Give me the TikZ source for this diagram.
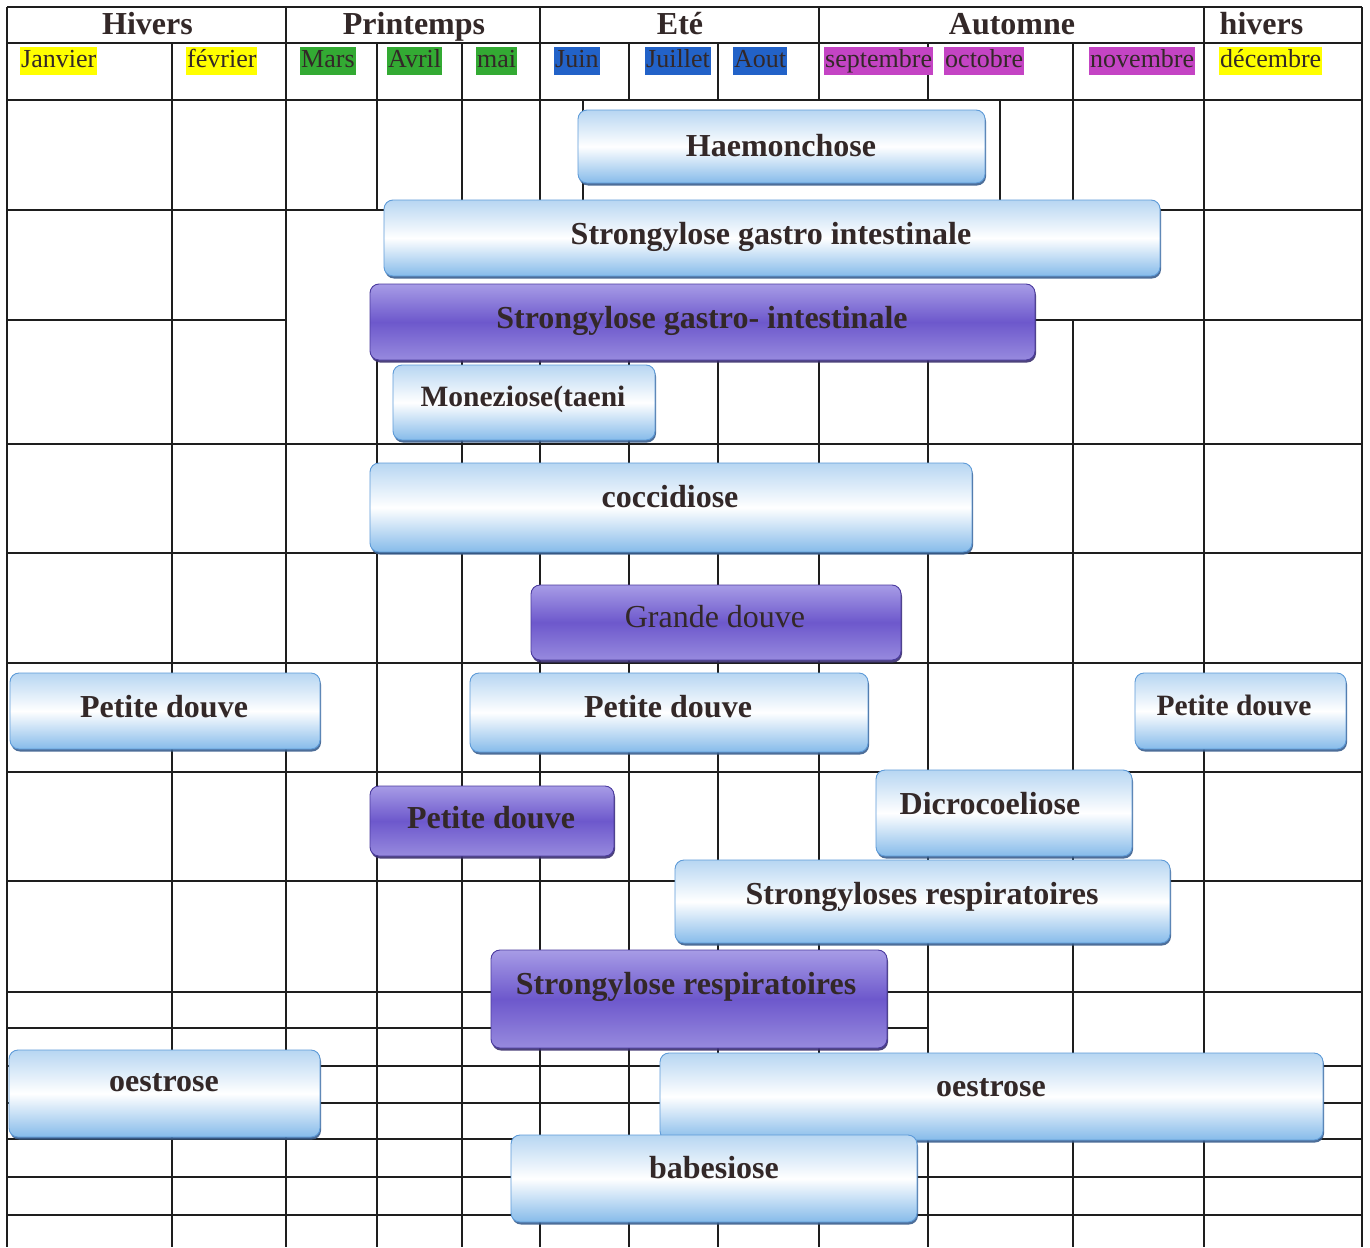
\documentclass[tikz,border=0pt]{standalone}
\usepackage{fontspec}
\setmainfont{Liberation Serif}
\usetikzlibrary{shadows}
\definecolor{txt}{HTML}{332828}
\definecolor{gridc}{HTML}{1E1E1E}
\definecolor{ltop}{HTML}{B7D6F2}
\definecolor{lbot}{HTML}{86BBEA}
\definecolor{ledge}{HTML}{5E9BD8}
\definecolor{lshadow}{HTML}{3A5F8E}
\definecolor{ptop}{HTML}{A79CE6}
\definecolor{pmid}{HTML}{6D58CC}
\definecolor{pbot}{HTML}{978ADE}
\definecolor{pedge}{HTML}{4A3A9E}
\definecolor{pshadow}{HTML}{3A2F6E}
\definecolor{hyel}{HTML}{FFFF00}
\definecolor{hgrn}{HTML}{33AA33}
\definecolor{hblu}{HTML}{2262C8}
\definecolor{hmag}{HTML}{C444C4}
\tikzset{
  gridline/.style={draw=gridc, line width=1.1pt},
  lbox/.style={rounded corners=9pt, draw=ledge, line width=0.9pt,
    top color=ltop, bottom color=lbot, middle color=white,
    drop shadow={shadow xshift=1pt, shadow yshift=-2.5pt, opacity=0.9, fill=lshadow}},
  pbox/.style={rounded corners=9pt, draw=pedge, line width=0.9pt,
    top color=ptop, bottom color=pbot, middle color=pmid,
    drop shadow={shadow xshift=1pt, shadow yshift=-2.5pt, opacity=0.9, fill=pshadow}},
  lbl/.style={font=\fontsize{32}{36}\selectfont\bfseries, text=txt, inner sep=0pt, text height=22pt, text depth=0pt},
  lblsmall/.style={lbl, font=\fontsize{29.5}{34}\selectfont\bfseries},
  lblreg/.style={lbl, font=\fontsize{32}{36}\selectfont},
  season/.style={lbl},
  month/.style={font=\fontsize{26}{30}\selectfont, text=txt, inner xsep=1pt, inner ysep=0pt, text height=20pt, text depth=7pt, anchor=west},
}
\begin{document}
\begin{tikzpicture}[x=1pt, y=-1pt]
\useasboundingbox (0,0) rectangle (1370,1247);
\fill[white] (0,0) rectangle (1370,1247);
% ---------- grid ----------
\draw[gridline] (7,7) -- (7,1247);
\draw[gridline] (1362,7) -- (1362,1247);
\foreach \y in {7,43,100} \draw[gridline] (7,\y) -- (1362,\y);
\foreach \x in {286,540,819,1204} \draw[gridline] (\x,7) -- (\x,43);
\foreach \x in {172,286,377,462,540,629,718,819,928,1073,1204} \draw[gridline] (\x,43) -- (\x,100);
\foreach \x in {172,286,377,462,540,583,1000,1073,1204} \draw[gridline] (\x,100) -- (\x,210);
\foreach \x in {172,286,1204} \draw[gridline] (\x,210) -- (\x,320);
\foreach \x in {172,286,377,462,540,629,718,819,928,1073,1204} \draw[gridline] (\x,320) -- (\x,444);
\foreach \x in {172,286,377,462,540,629,718,819,928,1073,1204} \draw[gridline] (\x,444) -- (\x,1247);
\draw[gridline] (7,210) -- (1362,210);
\draw[gridline] (7,320) -- (286,320);
\draw[gridline] (1035,320) -- (1362,320);
\foreach \y in {444,553,663,772,881,992,1066,1103,1139,1177,1215} \draw[gridline] (7,\y) -- (1362,\y);
\draw[gridline] (7,1028) -- (928,1028);
% ---------- header text ----------
\node[season] (s1) at (147.5,24) {Hivers};
\node[season] (s2) at (414,24) {Printemps};
\node[season] (s3) at (680,24) {Eté};
\node[season] (s4) at (1012,24) {Automne};
\node[season] (s5) at (1261.5,24) {hivers};
\node[month, fill=hyel] (m1) at (20,61) {Janvier};
\node[month, fill=hyel] (m2) at (186,61) {février};
\node[month, fill=hgrn] (m3) at (300,61) {Mars};
\node[month, fill=hgrn] (m4) at (387,61) {Avril};
\node[month, fill=hgrn] (m5) at (476,61) {mai};
\node[month, fill=hblu] (m6) at (554,61) {Juin};
\node[month, fill=hblu] (m7) at (645,61) {Juillet};
\node[month, fill=hblu] (m8) at (733,61) {Aout};
\node[month, fill=hmag] (m9) at (824,61) {septembre};
\node[month, fill=hmag] (m10) at (944,61) {octobre};
\node[month, fill=hmag] (m11) at (1089,61) {novembre};
\node[month, fill=hyel] (m12) at (1219,61) {décembre};
% ---------- boxes ----------
\node[lbox, minimum width=407pt, minimum height=73pt] (b1) at (781.5,146.5) {};
\node[lbl] (t1) at (781,145) {Haemonchose};
\node[lbox, minimum width=776pt, minimum height=76pt] (b2) at (772,238) {};
\node[lbl] (t2) at (771,233) {Strongylose gastro intestinale};
\node[pbox, minimum width=665pt, minimum height=76pt] (b3) at (702.5,322) {};
\node[lbl] (t3) at (702,317) {Strongylose gastro- intestinale};
\node[lbox, minimum width=262pt, minimum height=75pt] (b4) at (524,402.5) {};
\node[lblsmall] (t4) at (523,395) {Moneziose(taeni};
\node[lbox, minimum width=602pt, minimum height=89pt] (b5) at (671,507.5) {};
\node[lbl] (t5) at (670,496) {coccidiose};
\node[pbox, minimum width=370pt, minimum height=75pt] (b6) at (716,622.5) {};
\node[lblreg] (t6) at (715,616) {Grande douve};
\node[lbox, minimum width=310pt, minimum height=76pt] (b7) at (165,711) {};
\node[lbl] (t7) at (164,706) {Petite douve};
\node[lbox, minimum width=398pt, minimum height=79pt] (b8) at (669,712.5) {};
\node[lbl] (t8) at (668,706) {Petite douve};
\node[lbox, minimum width=211pt, minimum height=76pt] (b9) at (1240.5,711) {};
\node[lblsmall] (t9) at (1234,704) {Petite douve};
\node[pbox, minimum width=244pt, minimum height=70pt] (b10) at (492,821) {};
\node[lbl] (t10) at (491,817) {Petite douve};
\node[lbox, minimum width=256pt, minimum height=86pt] (b11) at (1004,813) {};
\node[lbl] (t11) at (990,803) {Dicrocoeliose};
\node[lbox, minimum width=495pt, minimum height=83pt] (b12) at (922.5,901.5) {};
\node[lbl] (t12) at (922,893) {Strongyloses respiratoires};
\node[pbox, minimum width=396pt, minimum height=98pt] (b13) at (689,999) {};
\node[lbl] (t13) at (686,983) {Strongylose respiratoires};
\node[lbox, minimum width=311pt, minimum height=87pt] (b14) at (164.5,1093.5) {};
\node[lbl] (t14) at (164,1080) {oestrose};
\node[lbox, minimum width=663pt, minimum height=87pt] (b15) at (991.5,1096.5) {};
\node[lbl] (t15) at (991,1085) {oestrose};
\node[lbox, minimum width=406pt, minimum height=87pt] (b16) at (714,1178.5) {};
\node[lbl] (t16) at (714,1167) {babesiose};
\end{tikzpicture}
\end{document}
